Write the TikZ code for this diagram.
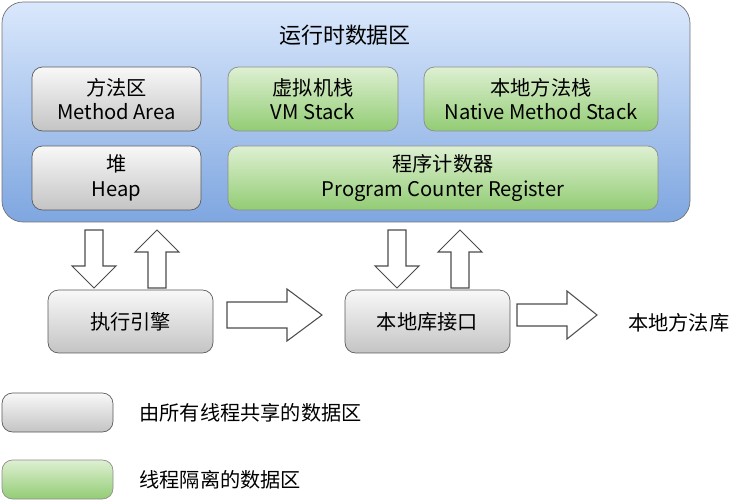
\documentclass[tikz,border=0pt]{standalone}
\usepackage{fontspec}
\setmainfont{Noto Sans CJK SC}
\usetikzlibrary{positioning}
\definecolor{bluetop}{RGB}{218,232,252}
\definecolor{bluebot}{RGB}{126,166,224}
\definecolor{greytop}{RGB}{248,248,248}
\definecolor{greybot}{RGB}{196,196,196}
\definecolor{greentop}{RGB}{222,240,210}
\definecolor{greenbot}{RGB}{146,204,116}
\tikzset{
  area/.style={draw=black!55, rounded corners=12pt, top color=bluetop, bottom color=bluebot},
  shared/.style={draw=black!65, rounded corners=6pt, top color=greytop, bottom color=greybot, align=center, font=\fontsize{11.5}{14}\selectfont},
  private/.style={draw=black!45, rounded corners=6pt, top color=greentop, bottom color=greenbot, align=center, font=\fontsize{11.5}{14}\selectfont},
  label/.style={font=\fontsize{11.5}{14}\selectfont, anchor=west},
  fat/.style={draw=black!70, fill=white, line width=0.6pt}
}
\begin{document}
\begin{tikzpicture}[x=0.02cm, y=-0.02cm]
    \useasboundingbox (0,0) rectangle (755,500);
    % runtime data area
    \draw [area] (2,2) rectangle (690,222);
    \node [font=\fontsize{12.5}{14}\selectfont] (title) at (345,35) {运行时数据区};
    \node [shared, minimum width=169*0.02cm, minimum height=64*0.02cm] (method) at (116.5,99) {方法区\\Method Area};
    \node [private, minimum width=170*0.02cm, minimum height=64*0.02cm] (vm) at (313,99) {虚拟机栈\\VM Stack};
    \node [private, minimum width=234*0.02cm, minimum height=64*0.02cm] (native) at (541,99) {本地方法栈\\Native Method Stack};
    \node [shared, minimum width=169*0.02cm, minimum height=64*0.02cm] (heap) at (116.5,178) {堆\\Heap};
    \node [private, minimum width=430*0.02cm, minimum height=64*0.02cm] (pc) at (443,178) {程序计数器\\Program Counter Register};
    % engine and interface
    \node [shared, minimum width=165*0.02cm, minimum height=63*0.02cm] (engine) at (130.5,321.5) {执行引擎};
    \node [shared, minimum width=165*0.02cm, minimum height=63*0.02cm] (jni) at (427.5,321.5) {本地库接口};
    \node [label] (lib) at (622,323) {本地方法库};
    % block arrows: x, y, rotation, length, shaft, head, head length
    \foreach \x/\y/\r/\l/\s/\h/\k in {94/230/-90/58/9/22/22, 157/288/90/58/9/22/22,
        397/230/-90/58/9/22/22, 460/288/90/58/9/22/22,
        227/315/0/95/13/26/35, 517/315/0/80/11/24/30}
        \draw [fat, shift={(\x,\y)}, rotate=\r]
            (0,-\s) -- ({\l-\k},-\s) -- ({\l-\k},-\h) -- (\l,0) -- ({\l-\k},\h) -- ({\l-\k},\s) -- (0,\s) -- cycle;
    % legend
    \node [shared, minimum width=111*0.02cm, minimum height=39*0.02cm] (keyshared) at (57.5,412.5) {};
    \node [label, right=20*0.02cm of keyshared] {由所有线程共享的数据区};
    \node [private, minimum width=111*0.02cm, minimum height=39*0.02cm] (keyprivate) at (57.5,479.5) {};
    \node [label, right=20*0.02cm of keyprivate] {线程隔离的数据区};
\end{tikzpicture}
\end{document}
